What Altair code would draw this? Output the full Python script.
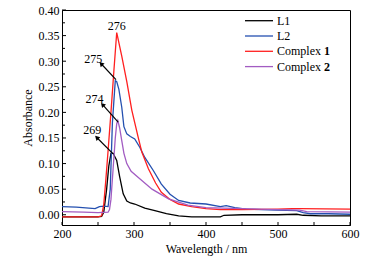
import math
import altair as alt
import pandas as pd

# ---------------- data ----------------
series_names = ["L1", "L2", "Complex 1", "Complex 2"]
series_colors = ["#000000", "#2450b0", "#ff1f1f", "#a25cc2"]

l1_wl = [200, 230, 250, 255, 258, 262, 265, 268, 271, 276, 280, 285, 290, 295, 301, 315, 329, 345, 362, 380, 400, 420, 425, 450, 500, 526, 535, 560, 600]
l1_abs = [-0.004, -0.004, -0.004, -0.003, 0.005, 0.05, 0.095, 0.12, 0.12, 0.106, 0.075, 0.041, 0.027, 0.023, 0.021, 0.013, 0.008, 0.002, -0.002, -0.004, -0.004, -0.004, -0.001, 0.0, 0.0, 0.001, -0.001, -0.002, -0.002]

l2_wl = [200, 220, 246, 252, 258, 264, 267, 270, 274, 276, 279, 283, 286, 290, 295, 301, 308, 315, 327, 338, 350, 362, 378, 400, 420, 428, 440, 456, 498, 526, 535, 545, 570, 600]
l2_abs = [0.016, 0.015, 0.012, 0.016, 0.017, 0.016, 0.05, 0.18, 0.262, 0.26, 0.245, 0.21, 0.172, 0.158, 0.153, 0.148, 0.132, 0.112, 0.086, 0.06, 0.04, 0.028, 0.023, 0.021, 0.016, 0.018, 0.014, 0.011, 0.009, 0.008, 0.004, 0.002, 0.002, 0.001]

c1_wl = [200, 250, 255, 258, 261, 264, 268, 272, 276, 283, 290, 297, 301, 306, 311, 320, 330, 338, 350, 362, 380, 400, 420, 450, 500, 520, 530, 600]
c1_abs = [-0.004, -0.004, -0.002, 0.02, 0.07, 0.125, 0.2, 0.28, 0.356, 0.31, 0.26, 0.204, 0.18, 0.15, 0.122, 0.09, 0.062, 0.044, 0.03, 0.021, 0.016, 0.012, 0.010, 0.010, 0.011, 0.012, 0.012, 0.011]

c2_wl = [200, 230, 250, 264, 266, 268, 271, 274, 276, 277.5, 280, 283, 286, 290, 296, 306, 325, 348, 375, 400, 450, 500, 530, 540, 600]
c2_abs = [0.006, 0.005, 0.004, 0.005, 0.01, 0.03, 0.09, 0.15, 0.178, 0.184, 0.17, 0.145, 0.12, 0.10, 0.085, 0.073, 0.05, 0.031, 0.019, 0.014, 0.012, 0.010, 0.009, 0.006, 0.005]

# peak annotations: label text, label position, arrow start (on curve), arrow tip
ann_text = ["275", "274", "269"]
ann_label_wl = [243.5, 245, 242]
ann_label_abs = [0.305, 0.227, 0.165]
ann_from_wl = [275, 278, 271]
ann_from_abs = [0.264, 0.181, 0.119]
ann_tip_wl = [255, 257, 249]
ann_tip_abs = [0.294, 0.214, 0.150]

top_text = ["276"]
top_wl = [276]
top_abs = [0.369]

x_major = [200, 300, 400, 500, 600]
x_minor_ticks = [200, 250, 300, 350, 400, 450, 500, 550, 600]
y_major = [0.00, 0.05, 0.10, 0.15, 0.20, 0.25, 0.30, 0.35, 0.40]
y_minor = [0.025, 0.075, 0.125, 0.175, 0.225, 0.275, 0.325, 0.375]

# ---------------- frames ----------------
rows = []
for name, wl, ab in zip(series_names, [l1_wl, l2_wl, c1_wl, c2_wl], [l1_abs, l2_abs, c1_abs, c2_abs]):
    for i, (w, a) in enumerate(zip(wl, ab)):
        rows.append({"series": name, "wl": w, "abs": a, "order": i})
lines_df = pd.DataFrame(rows)

W, H = 288, 215
XD = [200, 600]
YD = [-0.02, 0.40]
px_x = W / (XD[1] - XD[0])
px_y = H / (YD[1] - YD[0])

angles = []
for fw, fa, tw, ta in zip(ann_from_wl, ann_from_abs, ann_tip_wl, ann_tip_abs):
    dx = (tw - fw) * px_x
    dy = -(ta - fa) * px_y
    angles.append(math.degrees(math.atan2(dx, -dy)) % 360)

ann_df = pd.DataFrame({
    "text": ann_text, "lw": ann_label_wl, "la": ann_label_abs,
    "fw": ann_from_wl, "fa": ann_from_abs, "tw": ann_tip_wl, "ta": ann_tip_abs,
    "angle": angles,
})
top_df = pd.DataFrame({"text": top_text, "lw": top_wl, "la": top_abs})

xs = alt.Scale(domain=XD, nice=False, zero=False)
ys = alt.Scale(domain=YD, nice=False, zero=False)
FONT = "Liberation Serif"

XAX = alt.Axis(title="Wavelength / nm", values=x_major, format="d", ticks=False, tickSize=0,
               labelPadding=3, titlePadding=4, labelFlush=False,
               labelFont=FONT, labelFontSize=12, titleFont=FONT, titleFontSize=12,
               titleFontWeight="normal", labelColor="black", titleColor="black",
               domainColor="black", grid=False)
YAX = alt.Axis(title="Absorbance", values=y_major, format=".2f", ticks=False, tickSize=0,
               labelPadding=3, titlePadding=4, labelFlush=False,
               labelFont=FONT, labelFontSize=12, titleFont=FONT, titleFontSize=12,
               titleFontWeight="normal", labelColor="black", titleColor="black",
               domainColor="black", grid=False)


def X(f):
    return alt.X(f, scale=xs, axis=XAX)


def Y(f):
    return alt.Y(f, scale=ys, axis=YAX)


lines = alt.Chart(lines_df).mark_line(strokeWidth=1.3, clip=True).encode(
    x=X("wl:Q"),
    y=Y("abs:Q"),
    color=alt.Color("series:N", scale=alt.Scale(domain=series_names, range=series_colors), legend=None),
    order="order:Q",
    detail="series:N",
)

# inward ticks
ytick_major = alt.Chart(pd.DataFrame({"v": y_major})).mark_rule(color="black", strokeWidth=1).encode(
    y=Y("v:Q"), x=alt.value(0), x2=alt.value(4))
ytick_minor = alt.Chart(pd.DataFrame({"v": y_minor})).mark_rule(color="black", strokeWidth=1).encode(
    y=Y("v:Q"), x=alt.value(0), x2=alt.value(3))
xtick = alt.Chart(pd.DataFrame({"v": x_minor_ticks})).mark_rule(color="black", strokeWidth=1).encode(
    x=X("v:Q"), y=alt.value(H), y2=alt.value(H - 3))

# annotations
arrows = alt.Chart(ann_df).mark_rule(color="black", strokeWidth=1.2).encode(
    x=X("fw:Q"), y=Y("fa:Q"), x2="tw:Q", y2="ta:Q")
heads = alt.Chart(ann_df).mark_point(shape="triangle", filled=True, color="black", size=28, opacity=1).encode(
    x=X("tw:Q"), y=Y("ta:Q"), angle=alt.Angle("angle:Q", scale=None))
ann_labels = alt.Chart(ann_df).mark_text(font=FONT, fontSize=12, color="black").encode(
    x=X("lw:Q"), y=Y("la:Q"), text="text:N")
top_labels = alt.Chart(top_df).mark_text(font=FONT, fontSize=12, color="black").encode(
    x=X("lw:Q"), y=Y("la:Q"), text="text:N")

# manual legend (inside top-right)
leg_layers = []
leg_x0, leg_x1, leg_tx = 183, 211, 215
leg_y0, leg_dy = 10.7, 15.3
for i, (name, col) in enumerate(zip(series_names, series_colors)):
    yy = leg_y0 + i * leg_dy
    leg_layers.append(alt.Chart(pd.DataFrame({"s": [name]})).mark_rule(color=col, strokeWidth=1.3).encode(
        x=alt.value(leg_x0), x2=alt.value(leg_x1), y=alt.value(yy)))
    if name.startswith("Complex"):
        word, num = name.split(" ")
        leg_layers.append(alt.Chart(pd.DataFrame({"t": [word]})).mark_text(
            font=FONT, fontSize=12, align="left", baseline="middle", color="black").encode(
            x=alt.value(leg_tx), y=alt.value(yy), text="t:N"))
        leg_layers.append(alt.Chart(pd.DataFrame({"t": [num]})).mark_text(
            font=FONT, fontSize=12, fontWeight="bold", align="left", baseline="middle", color="black").encode(
            x=alt.value(leg_tx + 47), y=alt.value(yy), text="t:N"))
    else:
        leg_layers.append(alt.Chart(pd.DataFrame({"t": [name]})).mark_text(
            font=FONT, fontSize=12, align="left", baseline="middle", color="black").encode(
            x=alt.value(leg_tx), y=alt.value(yy), text="t:N"))

chart = alt.layer(
    lines, ytick_major, ytick_minor, xtick, arrows, heads, ann_labels, top_labels, *leg_layers
).properties(
    width=W, height=H,
    background="white",
    autosize=alt.AutoSizeParams(type="none"),
    padding={"left": 62, "top": 10, "right": 23, "bottom": 31},
).configure_view(
    stroke="black", strokeWidth=1
)

chart.save("out.html", embed_options={"renderer": "svg", "actions": False})
